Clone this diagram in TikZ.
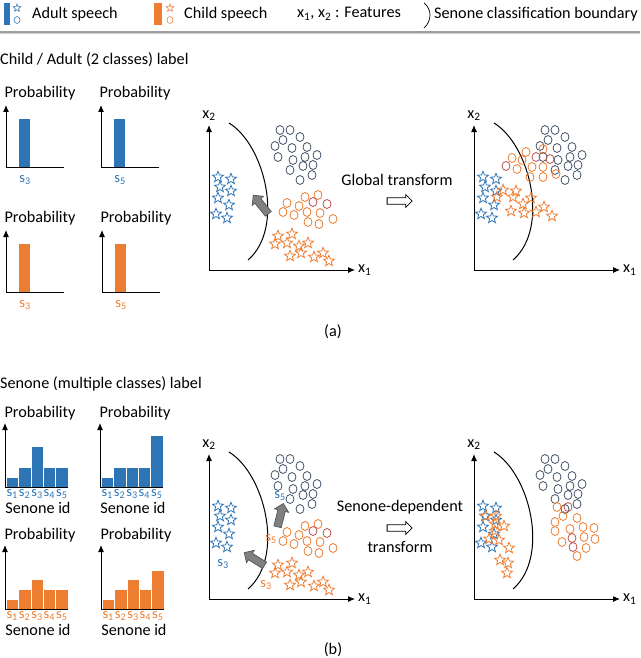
\documentclass[tikz,border=0pt]{standalone}
\usepackage{fontspec}
\setmainfont{Carlito}
\usetikzlibrary{arrows, arrows.meta, calc, positioning, shapes, shapes.arrows}
\definecolor{adultblue}{RGB}{46,117,182}
\definecolor{childorange}{RGB}{237,125,49}
\definecolor{clusternavy}{RGB}{68,84,106}
\definecolor{mixred}{RGB}{184,84,80}
\definecolor{shiftgray}{RGB}{128,128,128}
\newcommand{\adultstars}{(218,177),(231,179),(220,187),(231,191),(218,198),(229,205),(216,214),(227,218)}
\newcommand{\navycircs}{(280,130),(290,130),(283,140),(300,137),(275,146),(292,148),(307,147),(278,157),(293,160),(305,157),(317,155),(290,170),(303,166),(313,165),(300,180),(312,175)}
\newcommand{\childcircs}{(287,203),(299,206),(305,197),(318,195),(283,212),(294,215),(307,212),(320,213),(308,222),(319,224),(333,219)}
\newcommand{\redcircs}{(313,202),(327,204)}
\newcommand{\childstars}{(278,236),(292,234),(275,244),(287,243),(299,246),(308,243),(290,256),(301,253),(314,257),(323,253),(329,261)}

\begin{document}
\begin{tikzpicture}[x=1pt, y=-1pt, font=\fontsize{16.2}{19}\selectfont,
    txt/.style={inner sep=0pt},
    adultstar/.style={shape=star, star points=5, star point ratio=2.3, draw=adultblue, line width=0.8pt, minimum size=11.5pt, inner sep=0pt},
    childstar/.style={adultstar, draw=childorange},
    navycirc/.style={ellipse, draw=clusternavy, line width=0.8pt, minimum width=8pt, minimum height=9pt, inner sep=0pt},
    childcirc/.style={navycirc, draw=childorange},
    redcirc/.style={navycirc, draw=mixred},
    scatteraxis/.style={line width=1pt, {Latex[length=7pt,width=6pt]}-{Latex[length=7pt,width=6pt]}},
    histaxis/.style={line width=1pt, {Latex[length=7pt,width=6pt]}-},
    boundary/.style={line width=1pt},
    shiftarrow/.style={single arrow, fill=shiftgray, draw=black!70, line width=0.6pt, minimum height=24pt, inner sep=3.5pt, single arrow head extend=3.5pt},
    hollowarrow/.style={single arrow, draw=black, fill=white, line width=0.8pt, minimum height=25pt, inner sep=2.8pt, single arrow head extend=3.2pt},
    snlabel/.style={inner sep=0pt, font=\fontsize{14.5}{16}\selectfont}]
\useasboundingbox (0,0) rectangle (640,658);

\node[fill=adultblue, minimum width=6pt, minimum height=22pt, inner sep=0pt] (legab) at (7,14) {};
\node[adultstar, minimum size=8pt, line width=0.6pt] (legas) at (17,8) {};
\node[navycirc, draw=adultblue, minimum width=6pt, minimum height=7pt, line width=0.6pt] (legac) at (17,20) {};
\node[txt, anchor=west] (legat) at (32,14) {Adult speech};
\node[fill=childorange, minimum width=8pt, minimum height=22pt, inner sep=0pt] (legcb) at (158,14) {};
\node[childstar, minimum size=8pt, line width=0.6pt] (legcs) at (170,8) {};
\node[navycirc, draw=childorange, minimum width=6pt, minimum height=7pt, line width=0.6pt] (legcc) at (170,20) {};
\node[txt, anchor=west] (legct) at (184,14) {Child speech};
\node[txt, anchor=west] (legft) at (297,14) {x\textsubscript{1}, x\textsubscript{2} : Features};
\draw[line width=0.7pt] (424,3) .. controls (432,9) and (432,21) .. (424,28);
\node[txt, anchor=west] (legbt) at (434,14) {Senone classification boundary};
\draw[gray!35, line width=1.2pt] (0,33.5) -- (640,33.5);
\draw[gray!75, line width=1.2pt] (0,32) -- (640,32);

\node[txt, anchor=west] (titlea) at (0,60) {Child / Adult (2 classes) label};
\node[txt, anchor=west] (titleb) at (0,384) {Senone (multiple classes) label};

\foreach \hx/\hy/\col/\lab [count=\k] in {6/167/adultblue/3, 101/167/adultblue/5, 6/292/childorange/3, 102/292/childorange/5} {
  \coordinate (ha\k-t) at (\hx,\hy-62);
  \coordinate (ha\k-o) at (\hx,\hy);
  \coordinate (ha\k-r) at (\hx+58,\hy);
  \fill[\col] (\hx+13,\hy) rectangle (\hx+24,\hy-48);
  \draw[histaxis] (ha\k-t) -- (ha\k-o) -- (ha\k-r);
  \node[txt] (ha\k-p) at (\hx+34,\hy-74) {Probability};
  \node[snlabel, text=\col] (ha\k-s) at (\hx+19,\hy+13) {s\textsubscript{\lab}};
}

\foreach \hx/\hy/\col/\heights [count=\k] in {5/487/adultblue/{10,20,41,20,20}, 100/487/adultblue/{10,20,20,20,52}, 5/609/childorange/{10,20,30,20,20}, 101/609/childorange/{10,20,30,20,39}} {
  \coordinate (hb\k-t) at (\hx,\hy-64);
  \coordinate (hb\k-o) at (\hx,\hy);
  \coordinate (hb\k-r) at (\hx+63,\hy);
  \foreach \h [count=\i] in \heights {
    \filldraw[fill=\col, draw=white, line width=0.6pt] ({\hx+1+12.4*(\i-1)},\hy) rectangle ({\hx+1+12.4*\i},\hy-\h);
    \node[snlabel, text=\col] (hb\k-s\i) at ({\hx+1+12.4*(\i-0.5)},\hy+7) {s\textsubscript{\i}};
  }
  \draw[histaxis] (hb\k-t) -- (hb\k-o) -- (hb\k-r);
  \node[txt] (hb\k-p) at (\hx+35,\hy-74) {Probability};
  \node[txt] (hb\k-n) at (\hx+33,\hy+21) {Senone id};
}

\foreach \dx/\dy/\k in {0/0/1, 265/0/2, 0/329/3, 265/329/4} {
  \begin{scope}[shift={(\dx,\dy)}]
    \coordinate (ax\k-t) at (209,125);
    \coordinate (ax\k-o) at (209,270);
    \coordinate (ax\k-r) at (355,270);
    \draw[scatteraxis] (ax\k-t) -- (ax\k-o) -- (ax\k-r);
    \node[txt, above=4pt of ax\k-t] (ax\k-y) {x\textsubscript{2}};
    \node[txt, right=3pt of ax\k-r] (ax\k-x) {x\textsubscript{1}};
    \draw[boundary] (229,123) .. controls (265,145) and (285,228) .. (248,260);
    \foreach \p [count=\i] in \navycircs \node[navycirc] (nc\k-\i) at \p {};
    \foreach \p [count=\i] in \adultstars \node[adultstar] (as\k-\i) at \p {};
  \end{scope}
}

\foreach \dy/\k in {0/1, 329/3} {
  \begin{scope}[shift={(0,\dy)}]
    \foreach \p [count=\i] in \childcircs \node[childcirc] (cc\k-\i) at \p {};
    \foreach \p [count=\i] in \redcircs \node[redcirc] (rc\k-\i) at \p {};
    \foreach \p [count=\i] in \childstars \node[childstar] (cs\k-\i) at \p {};
  \end{scope}
}

\foreach \p [count=\i] in {(512,158),(526,152),(543,149),(522,160),(517,169),(532,167),(543,167),(530,177),(543,177),(556,174)}
  \node[childcirc] (cc2-\i) at \p {};
\foreach \p [count=\i] in {(506,166),(536,157),(550,159)}
  \node[redcirc] (rc2-\i) at \p {};
\foreach \p [count=\i] in {(503,190),(516,191),(497,197),(513,197),(531,198),(523,204),(511,211),(524,213),(536,212),(544,207),(552,216)}
  \node[childstar] (cs2-\i) at \p {};

\foreach \p [count=\i] in {(557,507),(563,516),(577,518),(555,522),(555,531),(570,529),(583,527),(594,528),(562,542),(584,537),(595,539),(586,548),(577,556)}
  \node[childcirc] (cc4-\i) at \p {};
\foreach \p [count=\i] in {(568,507),(572,538),(573,547)}
  \node[redcirc] (rc4-\i) at \p {};
\foreach \p [count=\i] in {(486,516),(496,516),(495,524),(504,526),(495,531),(489,539),(499,540),(509,548),(500,560),(508,563),(507,573)}
  \node[childstar] (cs4-\i) at \p {};

\node[shiftarrow, rotate=129] (mva) at (262,206) {};
\node[shiftarrow, rotate=76] (mvb1) at (280,517) {};
\node[shiftarrow, rotate=148] (mvb2) at (256,560) {};

\node[snlabel, text=adultblue] (lbs3) at (223,564) {s\textsubscript{3}};
\node[snlabel, text=adultblue] (lbs5) at (280,496) {s\textsubscript{5}};
\node[snlabel, text=childorange] (lcs5) at (271,539) {s\textsubscript{5}};
\node[snlabel, text=childorange] (lcs3) at (266,585) {s\textsubscript{3}};

\node[txt] (gtxt) at (397,180) {Global transform};
\node[hollowarrow] (garr) at (398,201) {};
\node[txt] (sdtxt) at (400,507) {Senone-dependent};
\node[hollowarrow] (sdarr) at (398,528) {};
\node[txt] (trtxt) at (400,547) {transform};

\node[txt] (capa) at (333,332) {(a)};
\node[txt] (capb) at (333,650) {(b)};
\end{tikzpicture}
\end{document}
